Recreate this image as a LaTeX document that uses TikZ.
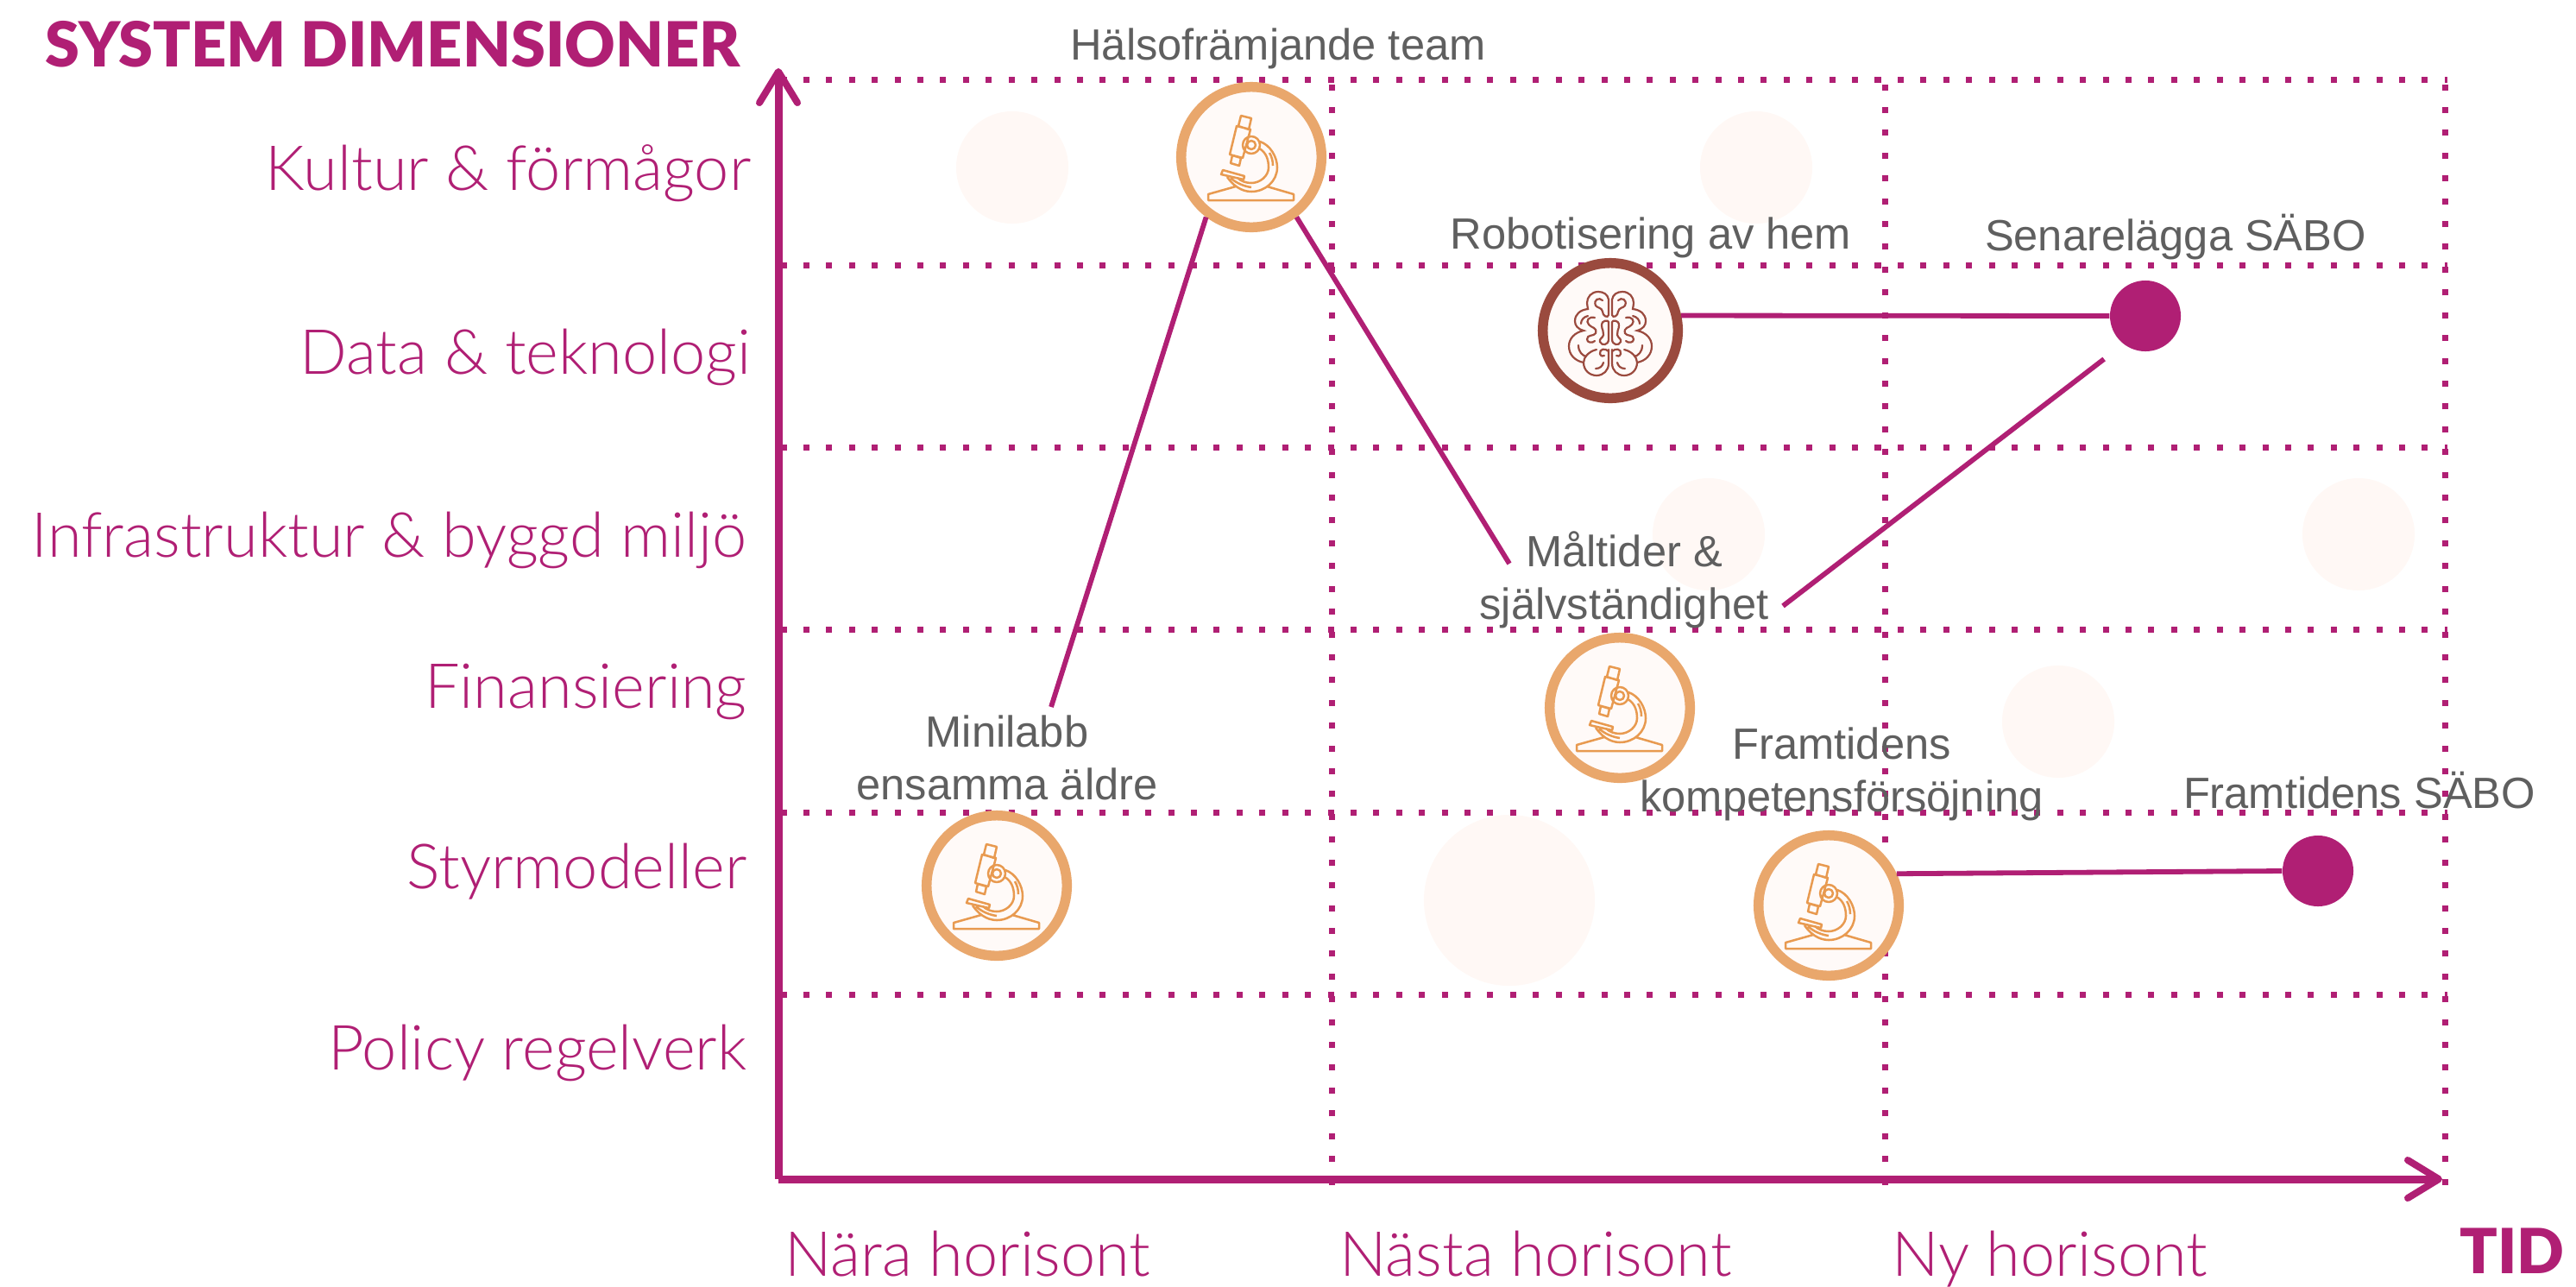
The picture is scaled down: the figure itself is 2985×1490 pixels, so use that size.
\documentclass[tikz,border=0pt]{standalone}
\usepackage{fontspec}
\usetikzlibrary{arrows.meta}
\setmainfont{Liberation Sans}
\newfontfamily\latolight[UprightFont=* Light]{Lato}
\newfontfamily\latoblack[UprightFont=* Black]{Lato}
\definecolor{magenta}{HTML}{B01F74}
\definecolor{ringorange}{HTML}{E9A76C}
\definecolor{lineorange}{HTML}{E89A50}
\definecolor{brainred}{HTML}{9A4A3E}
\definecolor{palefill}{HTML}{FFF8F5}
\definecolor{ringfill}{HTML}{FFFAF8}
\definecolor{labelgray}{HTML}{5F5F5F}
\tikzset{
  griddot/.style={magenta, line width=0.07cm, dash pattern=on 0.07cm off 0.194cm},
  axis/.style={magenta, line width=0.09cm, -{Straight Barb[round, length=0.36cm, width=0.44cm, line width=0.08cm]}},
  link/.style={magenta, line width=0.058cm},
  pale/.style={circle, fill=palefill, inner sep=0},
  ringmic/.style={circle, draw=ringorange, fill=ringfill, line width=0.115cm, minimum size=1.625cm, inner sep=0},
  ringbrain/.style={circle, draw=brainred, fill=ringfill, line width=0.115cm, minimum size=1.565cm, inner sep=0},
  goal/.style={circle, fill=magenta, minimum size=0.82cm, inner sep=0},
  dimlabel/.style={magenta, anchor=base east, inner sep=0, font=\latolight\fontsize{20.5}{25}\selectfont},
  horizon/.style={magenta, anchor=base west, inner sep=0, font=\latolight\fontsize{20.5}{25}\selectfont},
  heading/.style={magenta, inner sep=0, font=\latoblack\fontsize{20.5}{25}\selectfont},
  caption/.style={labelgray, align=center, inner sep=0, font=\fontsize{14.4}{17.3}\selectfont},
  microscope/.pic={
    \draw[lineorange, line width=0.025cm, line join=round]
      (-18,34) -- (-50,43) -- (-50,50) -- (49,50) -- (49,43) -- (18,34)
      (-12,-48) -- (0,-45) -- (-3,-32) -- (-15,-36) -- cycle
      (-17,-36) -- (-1,-32) -- (-10,1) -- (-25,-3) -- cycle
      (-22,-2) -- (-12,1) -- (-14,10) -- (-24,7) -- cycle
      (-33,15) -- (-8,22) -- (-9,26) -- (-35,20) -- cycle
      (0,-14) circle[radius=10] (0,-14) circle[radius=5]
      (10,-18) .. controls (22,-14) and (30,0) .. (30,12) .. controls (30,28) and (16,40) .. (0,40) .. controls (-12,40) and (-22,32) .. (-28,23)
      (9,-10) .. controls (17,-6) and (20,3) .. (20,12) .. controls (20,22) and (10,30) .. (0,30) .. controls (-6,30) and (-12,28) .. (-16,24)
      (21,-5) .. controls (24,0) and (25,5) .. (25,10)
      (-24,24) .. controls (-18,30) and (-8,34) .. (0,35);
  },
  brainhalf/.pic={
    \draw[brainred, line width=0.022cm, line cap=round]
      (2,-18) -- (2,-36) .. controls (3,-42) and (8,-45) .. (14,-45) .. controls (22,-45) and (27,-39) .. (27,-32) .. controls (27,-29) and (26,-27) .. (26,-25) .. controls (35,-24) and (41,-19) .. (41,-11) .. controls (41,-6) and (38,-2) .. (31,0) .. controls (41,2) and (48,9) .. (48,18) .. controls (48,28) and (41,35) .. (31,37)
      (16,22) .. controls (25,24) and (31,31) .. (31,37) .. controls (31,46) and (24,52) .. (16,52) .. controls (8,52) and (2,46) .. (2,38) -- (2,22)
      (9,-35) .. controls (13,-39) and (20,-36) .. (17,-29) .. controls (15,-26) and (10,-27) .. (9,-22) .. controls (9,-17) and (3,-14) .. (2,-18)
      (2,-10) .. controls (2,-12) and (10,-13) .. (10,-6) .. controls (10,-1) and (7,1) .. (8,5) .. controls (9,9) and (13,9) .. (12,13) .. controls (10,18) and (2,17) .. (2,10) -- (2,-10)
      (18,-15) .. controls (25,-17) and (29,-11) .. (25,-7) .. controls (22,-3) and (15,-4) .. (17,3) .. controls (19,7) and (27,4) .. (27,10) .. controls (27,14) and (21,15) .. (18,12)
      (26,-17) .. controls (31,-16) and (34,-12) .. (34,-8)
      (37,17) .. controls (37,25) and (32,29) .. (28,30)
      (2,24) .. controls (6,20) and (13,21) .. (12,27) .. controls (11,30) and (8,30) .. (7,29)
      (8,37) .. controls (9,41) and (12,44) .. (17,44);
  }
}
\begin{document}
\begin{tikzpicture}[x=0.01cm, y=-0.01cm]
  \useasboundingbox (0,0) rectangle (2985,1490);
  \node[pale, minimum size=1.3cm] (pale1) at (1173,194) {};
  \node[pale, minimum size=1.3cm] (pale2) at (2035,194) {};
  \node[pale, minimum size=1.3cm] (pale3) at (1980,619) {};
  \node[pale, minimum size=1.3cm] (pale4) at (2733,619) {};
  \node[pale, minimum size=1.3cm] (pale5) at (2385,836) {};
  \node[pale, minimum size=1.98cm] (pale6) at (1749,1043) {};
  \draw[griddot] (904.5,92) -- (2836,92);
  \draw[griddot] (904.5,307) -- (2836,307);
  \draw[griddot] (904.5,518) -- (2836,518);
  \draw[griddot] (904.5,729) -- (2836,729);
  \draw[griddot] (904.5,941) -- (2836,941);
  \draw[griddot] (904.5,1152) -- (2836,1152);
  \draw[griddot] (1543,1372.5) -- (1543,79);
  \draw[griddot] (2184,1372.5) -- (2184,79);
  \draw[griddot] (2833,1372.5) -- (2833,79);
  \coordinate (origin) at (902,1366);
  \coordinate (ytop) at (902,79);
  \coordinate (xend) at (2830,1366);
  \draw[axis] (origin) -- (ytop);
  \draw[axis] (origin) -- (xend);
  \node[heading, anchor=base west] (sysdim) at (52,77) {SYSTEM DIMENSIONER};
  \node[heading, anchor=base east] (tid) at (2972,1475) {TID};
  \node[dimlabel] (kultur) at (871,220) {Kultur \& förmågor};
  \node[dimlabel] (data) at (871,433) {Data \& teknologi};
  \node[dimlabel] (infra) at (866,645) {Infrastruktur \& byggd miljö};
  \node[dimlabel] (finans) at (866,820) {Finansiering};
  \node[dimlabel] (styr) at (866,1029) {Styrmodeller};
  \node[dimlabel] (policy) at (866,1239) {Policy regelverk};
  \node[horizon] (nara) at (909,1478) {Nära horisont};
  \node[horizon] (nasta) at (1552,1478) {Nästa horisont};
  \node[horizon] (nyhor) at (2192,1478) {Ny horisont};
  \node[ringmic] (mic1) at (1450,182) {};
  \node[ringmic] (mic2) at (1877,820) {};
  \node[ringmic] (mic3) at (1155,1026) {};
  \node[ringmic] (mic4) at (2119,1049) {};
  \node[ringbrain] (brain) at (1866,383) {};
  \node[goal] (senare) at (2486,366) {};
  \node[goal] (framtsabo) at (2686,1009) {};
  \pic at (mic1) {microscope};
  \pic at (mic2) {microscope};
  \pic at (mic3) {microscope};
  \pic at (mic4) {microscope};
  \pic at (brain) {brainhalf};
  \pic[xscale=-1] at (brain) {brainhalf};
  \node[caption] (halso) at (1481,56) {Hälsofrämjande team};
  \node[caption] (robot) at (1913,275) {Robotisering av hem};
  \node[caption] (senaretxt) at (2521,275) {Senarelägga SÄBO};
  \node[caption] (maltider) at (1882,672) {Måltider \&\\självständighet};
  \node[caption] (minilabb) at (1167,878) {Minilabb\\ensamma äldre};
  \node[caption] (kompetens) at (2134,897) {Framtidens\\kompetensförsöjning};
  \node[caption] (framttxt) at (2734,916) {Framtidens SÄBO};
  \coordinate (minilut) at (1218,819);
  \coordinate (maltin) at (1749,653);
  \coordinate (maltut) at (2066,702);
  \draw[link] (mic1.233) -- (minilut);
  \draw[link] (mic1.-53) -- (maltin);
  \draw[link] (brain.12) -- (senare.west);
  \draw[link, shorten >=0.28cm] (maltut) -- (senare.232);
  \draw[link] (mic4.25) -- (framtsabo.west);
\end{tikzpicture}
\end{document}
